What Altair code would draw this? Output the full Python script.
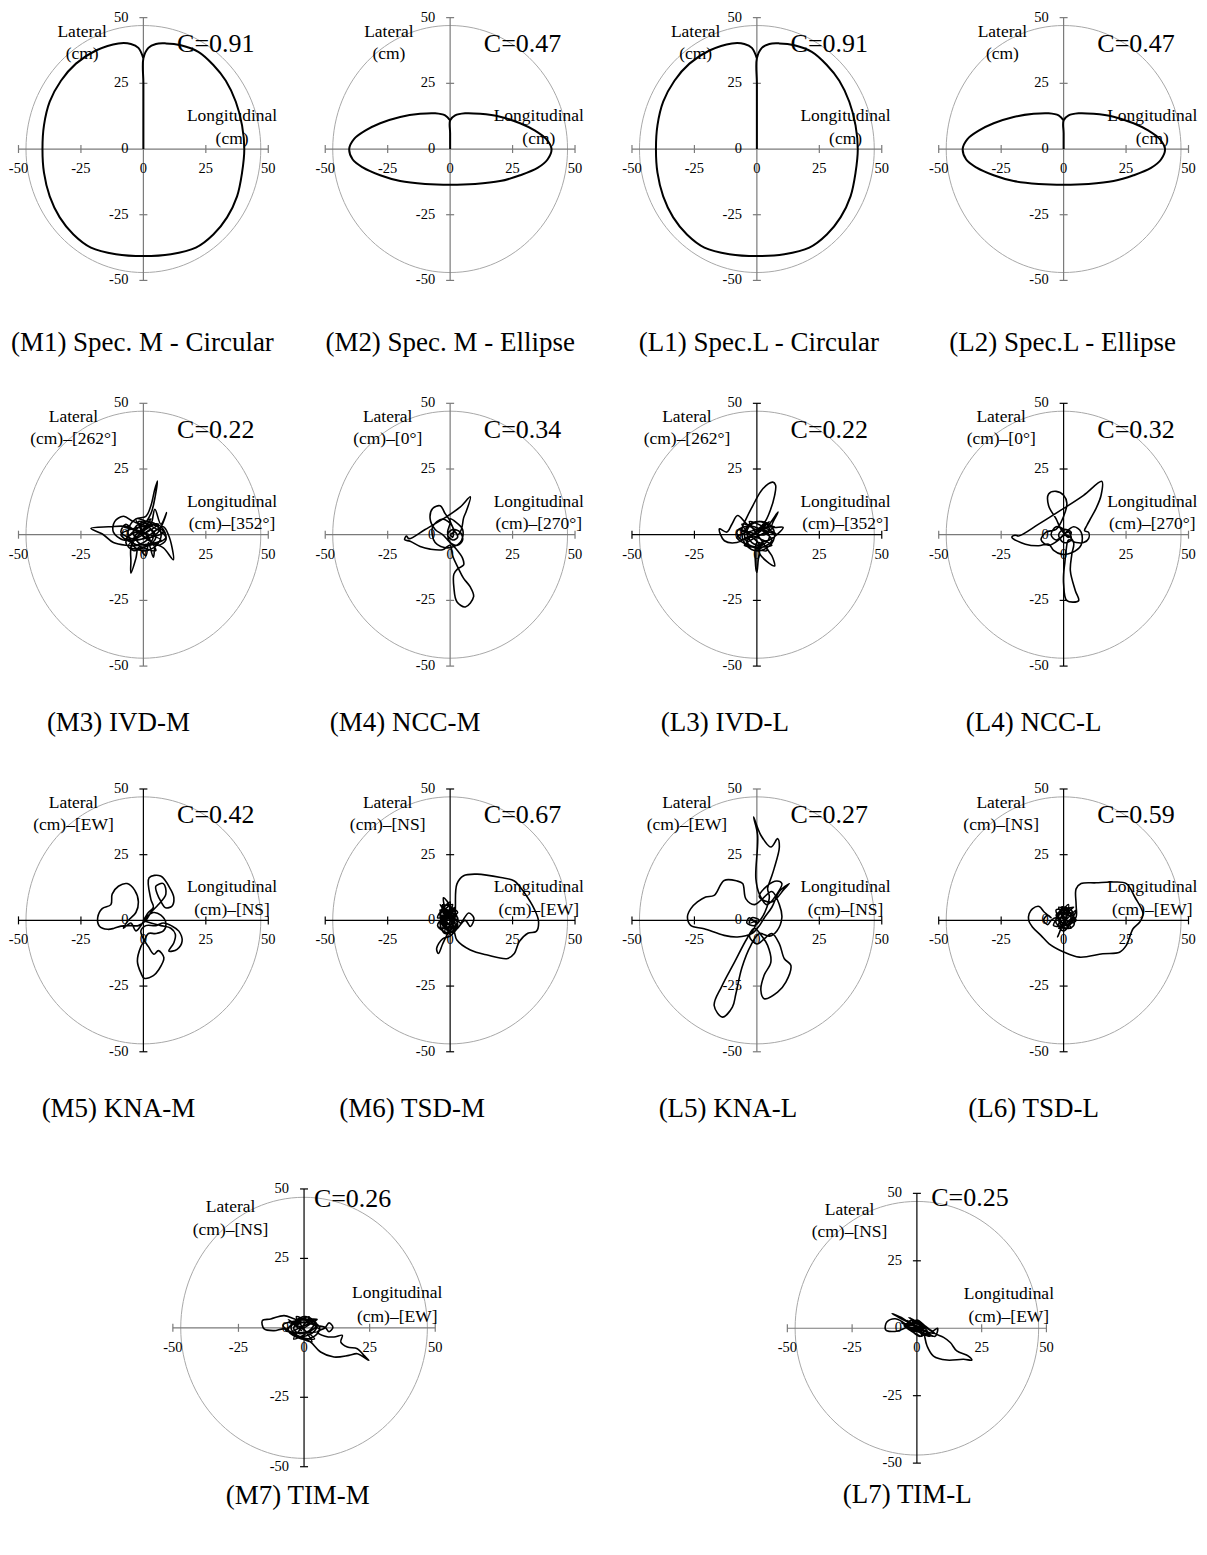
import altair as alt
import pandas as pd

FONT = "Liberation Serif"
TICKS = [-50, -25, 0, 25, 50]
GUIDE_R = 47  # radius of the grey reference circle (cm)

# ---------------- traces (x = longitudinal, y = lateral, cm) ----------------
M1_xy = [(0, 0), (0, 12), (0, 25), (0, 34.5), (2, 38.5), (5, 40), (9, 40.2), (15, 39.5), (22, 37), (28, 32),
         (33, 26), (37, 18), (39.5, 9), (40.4, 0), (39.5, -9), (37.5, -18), (33.5, -26), (28, -32.5), (21, -37.5),
         (11, -40), (0, -40.7), (-11, -40), (-21, -37.5), (-28, -32.5), (-33.5, -26), (-37.5, -18), (-39.8, -9),
         (-40.4, 0), (-39.8, 9), (-37.5, 18), (-33, 26), (-27, 32.5), (-19, 37.5), (-10, 40.2), (-5, 40),
         (-2, 38.5), (0, 34.5)]
M2_xy = [(0, 0), (0, 6), (0, 10.9), (2, 12.8), (6, 13.6), (12, 13.4), (20, 12.3), (28, 9.8), (34, 7), (38.5, 3.8),
         (40.6, 0), (39, -4), (35, -7.2), (28, -10), (20, -12.2), (10, -13.3), (0, -13.6), (-10, -13.3),
         (-20, -12.2), (-28, -10), (-35, -7), (-39, -4), (-40.4, 0), (-38.5, 3.8), (-34, 7), (-28, 9.8),
         (-20, 12.2), (-12, 13.4), (-6, 13.6), (-2, 12.8), (0, 10.9)]
L1_xy = list(M1_xy)
L2_xy = list(M2_xy)
M3_xy = [(0, 0), (3, 2), (5, -1), (2, -4), (-2, -3), (-4, 1), (-2, 4), (2, 5), (6, 3), (7, -1), (4, -5), (-1, -6),
         (-5, -3), (-6, 2), (-3, 6), (1, 7), (3, 11), (4.5, 17), (5.6, 20.4), (4.8, 15), (3, 8), (0, 4), (-4, 5),
         (-8, 7), (-11.5, 5), (-12, 1), (-8, -2), (-3, -1), (1, 2), (5, 4), (8, 2), (9, -2), (6, -4), (2, -2),
         (-1, 0), (-6, 3), (-14, 3), (-21, 2.4), (-16, 0), (-12, -3), (-7, -4), (-3, -4), (0, -3), (3, -1), (6, 1),
         (9.3, 8.4), (7, 4), (4.6, 9.7), (3, 4), (0, 2), (-3, 0), (-5, -5), (-5, -10), (-5, -14.6), (-3, -9),
         (-2, -5), (1, -8), (2, -3), (4, -8.6), (5, -4), (8, -5), (12, -9.5), (11.5, -5), (10, 0), (8, 3), (4, 1),
         (1, -1), (-2, 1), (-5, 0), (-7, -3), (-4, -6), (0, -5), (3, -3), (4, 0), (2, 3), (-1, 3), (-4, 2),
         (-7, 4), (-9, 1), (-6, -1), (-2, -2), (2, 0), (-8, 3), (7, -2), (-6, -4), (6, 4), (-9, 0), (5, -6),
         (-3, 6), (8, 1), (-7, -2), (3, 6), (-5, -5), (9, -1), (-2, 5), (0, 0)]
M4_xy = [(0, 0), (2, 1), (3, -1), (1, -2), (-1, 0), (1, 2), (4, 1), (5, -2), (3, -4), (0, -3), (-1, 1), (0, 5),
         (-2, 8), (-4, 11), (-7, 10), (-8, 6), (-6, 2), (-3, 0), (-1, -2), (2, -5), (5, -9), (5.4, -11.5),
         (3, -13), (1.5, -15), (1.5, -20), (2.7, -25.5), (6.1, -27.5), (9.4, -23.6), (8, -19.8), (5.4, -16.6),
         (3.4, -13), (1, -8), (0, -4), (-3, -5.7), (-8, -5.5), (-12, -4.5), (-16, -2.5), (-18.2, -1.9),
         (-17.5, -0.5), (-16.5, -1.5), (-10, 2), (-2, 6.5), (4, 10.5), (8.1, 14.4), (6.5, 9), (5.4, 6.4),
         (4.5, 2), (3, 0), (0, 6), (5, 2), (4, -3), (-1, -5), (-6, -3), (-7, 3), (-3, 6), (1, 3), (1, -1), (0, 0)]
L3_xy = [(0, 0), (3, 2), (5, -1), (2, -4), (-2, -3), (-4, 1), (-2, 4), (2, 5), (6, 3), (7, -1), (4, -5), (-1, -6),
         (-5, -3), (-6, 2), (-4.3, 6), (-1.6, 11.1), (2.4, 17.5), (6.4, 20), (7.5, 18.8), (7.1, 14.9), (5.1, 8.6),
         (3.1, 4.7), (0, 2), (-4, 4), (-7.7, 7.3), (-10, 4), (-12, 1), (-15, 2.2), (-13, -2.3), (-8, -3), (-4, -1),
         (0, 1), (4, 3), (8.5, 8.6), (6, 3), (10.5, 2.8), (8, 0), (5, -2), (2, -3), (1, -7), (7.1, -11.9),
         (6, -8), (5.1, -6.8), (3, -4), (0, -3), (-0.5, -11.9), (0, -14.4), (0.5, -10), (1, -4), (-2, -1),
         (-6, -2), (-8, 1), (-5, 3), (-1, 3), (3, 1), (6, -2), (4, -4), (0, -5), (-3, -4), (-5, 0), (-3, 4),
         (1, 5), (5, 3), (3, 0), (-7, 2), (6, -4), (-5, -4), (7, 3), (-8, -1), (4, -6), (-3, 5), (8, 0),
         (-6, 4), (2, -5), (-4, -3), (5, 5), (0, 0)]
L4_xy = [(0, 0), (2, 1), (3, -2), (0, -3), (-2, 0), (0, 2), (3, 1), (2, -1), (-1, 2), (-3, 6), (-6, 11),
         (-6, 15.5), (-3, 16.5), (0, 15), (1.3, 12), (0, 7), (-3, 2), (-7, 1), (-9, -2), (-6, -4), (-2, -2),
         (0, 0), (4, 3), (7, 1), (7, -4), (3, -7), (-1, -7.4), (-4, -6), (-6, -3.6), (-10, -4.2), (-15.3, -3.6),
         (-20.7, -1), (-19.5, -0.2), (-18, -0.5), (-10, 4), (0, 10), (8, 15), (15.3, 20.3), (15, 15), (13, 10),
         (11, 6.5), (9.3, 3.5), (8.4, 1.5), (10, 0.9), (10, -1.5), (8, -3), (5, -3), (2, -2), (1, -6),
         (0.5, -10.5), (0, -15), (0, -18.8), (1.3, -25.1), (6, -25.1), (4.7, -21.3), (2.7, -13.7), (3.3, -7.4),
         (4, -3), (1, 0), (-3, -2), (-5, 0), (-3, 3), (0, 2), (0, 0)]
M5_xy = [(0, 0), (2, 3), (4, 5), (3, 8), (2.3, 16.2), (6.9, 16.9), (10.9, 11.8), (12.2, 8.6), (11.5, 5.5),
         (8.9, 4.8), (6.9, 7.4), (5.6, 9.9), (5, 13), (8, 14), (9, 10), (6, 6), (3, 3), (1, 0), (-2, -2), (-5, -2),
         (-9, -2.2), (-11.7, -3), (-14.3, -3.4), (-17.6, -2.2), (-18.3, 1), (-16.5, 4.5), (-13, 6), (-12.5, 10),
         (-10, 13), (-6.5, 14), (-3.5, 11.5), (-2, 7), (-3, 3), (-6, 0), (-8, -3), (-5, -1), (-3, -4), (-1, -2),
         (1, 1), (4, 3), (7, 2), (9, -1), (8, -4), (5, -5), (2, -5), (0.3, -7.9), (-1, -10), (-2.4, -15.5),
         (-1, -20), (0.3, -22), (4, -21), (6.2, -18.7), (8.2, -14.2), (6, -11.5), (4.2, -12.9), (2, -10),
         (0, -7), (-1, -4), (1, -2), (5, -2), (8, -1), (11.5, -2.2), (14.2, -4.1), (15.5, -7.9), (13.5, -11),
         (10.2, -11.7), (12.2, -8.5), (12.8, -5.3), (11, -3), (7, -2), (3, -1), (0, 0)]
M6_xy = [(0, 0), (-2, 3), (-3, -2), (-1, 4), (1, -3), (-3, 1), (-1, -4), (0, 5), (-2.7, 8.6), (-2, 2), (-4, -3),
         (0, -2), (2, 4), (-1, 1), (-3, 5), (1, 2), (3, -2), (-2, -5), (-4, 0), (0, 3), (3, 1), (1, -4), (-2, -3),
         (-4, 3), (-1, 6), (2, 3), (4, -1), (7.4, 2.8), (9.5, 0.9), (8.1, -2.3), (6, 0), (3, -3), (0, -6),
         (-3, -7), (-5.4, -10.7), (-4.7, -12.6), (-3, -9), (-1, -5), (1, -2), (2, 3), (2.7, 13.8), (5.4, 17),
         (10.8, 17.6), (20.3, 16.3), (25.7, 15), (29.7, 10.5), (33.8, 4.1), (35.4, -0.4), (34.5, -4.2),
         (31.1, -4.9), (27.7, -8.1), (25.7, -12.6), (23, -14.5), (14.9, -13.2), (8.1, -11.3), (2.7, -7.5),
         (1.4, -3.6), (-1, -1), (-3, 2), (-2, -2), (1, 1), (-1, 3), (-3, -1), (2, -1), (-2, 4), (-4, 6), (2, -4),
         (-3, -4), (1, 6), (-4, 2), (3, 0), (-2, -5), (0, 7), (-5, 1), (2, 2), (-1, -3), (-4, 4), (1, -1),
         (-3, 6), (3, 3), (-2, 0), (0, -5), (-5, -2), (2, 5), (-1, 2), (-4, -1), (1, 4), (-2, -2), (3, -3),
         (-3, 3), (0, 0)]
L5_xy = [(0, 0), (-3, -1), (-2, 1), (1, 0), (-1, -2), (-4, -1), (-3, 1), (0, -1), (2, 1), (4, 5), (5, 9),
         (4.3, 12.1), (5.6, 15.9), (6.9, 19.7), (9, 27.9), (8.3, 31.1), (5.6, 27.9), (1.6, 32.4), (-1.3, 39.3),
         (0.3, 32.4), (-0.4, 15.9), (1, 10), (4, 6), (8, 10), (10, 14), (8, 15), (4, 13), (1, 9), (6, 7),
         (11, 12), (13, 14), (9, 11), (6, 5), (3, 1), (1, -2), (-2, -5), (-7.8, -6.3), (-13.1, -5.7),
         (-21.1, -3.2), (-26.5, -1.9), (-27.8, 1.3), (-26.5, 4.4), (-23.8, 7), (-20.5, 8.9), (-17.1, 9.5),
         (-13.1, 15.2), (-8, 15), (-5.7, 14), (-4.4, 8.2), (-1, 6), (2, 8), (6, 11), (9, 6), (10, 1), (8, -4),
         (5, -6), (1, -5), (-2.4, -9.5), (-6, -18), (-8.4, -27.9), (-9.8, -33), (-13.8, -36.8), (-17.1, -32.4),
         (-14, -25), (-9, -16), (-4, -7), (-1, -3), (2, -6), (4.3, -9.5), (5.6, -15.9), (2.9, -20.9),
         (1.6, -26.6), (2.9, -29.8), (8.3, -27.3), (11.6, -23.5), (13.6, -17.1), (11, -14.6), (9, -8.9),
         (6, -5), (3, -7), (0, -9), (-3, -6), (-1, -3), (0, 0)]
L6_xy = [(0, 0), (2, 3), (-1, 4), (-3, -1), (1, -3), (3, 2), (0, 5), (-2, 1), (2, -2), (4, 1), (1, 3), (-2, -2),
         (0, -4), (3, -1), (5, 1.3), (5, 6), (5, 12), (7, 14), (13, 14.3), (19.7, 14.6), (25.1, 14), (28.5, 8.9),
         (31.8, 2.5), (30.5, -0.6), (27.8, -3.2), (25.1, -9.5), (22.4, -12.1), (15.7, -12.7), (6.3, -14),
         (0, -12), (-5.8, -8.9), (-9.1, -5.7), (-12.5, -2.5), (-14, 0), (-13.8, 2.5), (-12.5, 4.4), (-9.8, 5.3),
         (-7.8, 3.2), (-5, 1), (-6.4, 2), (-8, 0), (-6.4, -1.6), (-5, 0), (-3, 1), (-1, -2), (-2.4, -6.3),
         (-1, -3), (1, 2), (-1, 5), (3, 4), (4, -2), (1, -3), (-2, 0), (4, 5), (-3, 2), (3, -3), (-2, 5), (5, 0),
         (-4, -2), (2, 6), (0, -4), (4, 2), (-3, 4), (1, -2), (5, 4), (-2, -3), (3, 1), (-1, 3), (0, 0)]
M7_xy = [(0, 0), (3, 2), (-2, 3), (-5, 0), (-2, -3), (3, -2), (5, 1), (1, 4), (-4, 2), (-6, -1), (-1, -4), (4, -3),
         (6, 0), (2, 3), (-3, 3), (-7.6, 4.4), (-12.7, 3.2), (-15.9, 2.6), (-15.2, -0.4), (-11.4, -1),
         (-7.6, -0.4), (-4, -2), (0, -4), (2.5, -5.1), (6.3, -8.7), (11.4, -10.5), (17.1, -9.9), (20.3, -9.3),
         (24.7, -11.7), (22.8, -9.9), (20.3, -7.5), (16.5, -6.9), (14, -5.1), (14.6, -2.7), (11.4, -3.3),
         (8, -3), (5.1, -1.5), (8, 0), (9.5, 1.8), (11, 0.2), (9.5, -1.4), (8, 0.2), (4, 1), (0, 2), (-4, 0),
         (-2, -2), (2, -1), (4, 2), (0, 3), (-3, 1), (-1, -1), (-6, 3), (4, -4), (-5, -2), (5, 3), (-8, 1),
         (3, -5), (-3, 4), (6, -1), (-7, -1), (2, 4), (-4, -4), (5, 1), (-6, 2), (0, 0)]
L7_xy = [(0, 0), (-3, 2), (-6, 4), (-9.6, 5.4), (-5, 3), (-1, 1), (3, -1), (5, -3), (2, -2), (-2, 0), (-5, 2),
         (-8.4, 3.5), (-11.6, 2.3), (-12.2, -0.3), (-11.6, -0.9), (-7.1, -0.9), (-3, 1), (0, 3), (3, 1), (6, -1),
         (8, 0), (7, -3), (4, -2), (1, -3), (-2, -1), (-4, 1), (-1, 2), (2, 0), (3.9, -6.5), (6.4, -10.3),
         (11.6, -11.8), (18, -11.5), (21.2, -11.8), (19.9, -10.3), (15.4, -8.4), (12.9, -5.3), (10.3, -3.4),
         (7, -2), (4, 0), (1, 2), (-2, 3), (-4, 1), (-1, -1), (2, -1), (-7, 4), (5, -2), (-4, 3), (6, -3),
         (-6, 2), (3, 0), (-3, 4), (7, -2), (-5, 1), (2, -3), (-2, 3), (4, -1), (0, 0)]

# ---------------- texts ----------------
C_VALUES = {"M1": "C=0.91", "M2": "C=0.47", "L1": "C=0.91", "L2": "C=0.47",
            "M3": "C=0.22", "M4": "C=0.34", "L3": "C=0.22", "L4": "C=0.32",
            "M5": "C=0.42", "M6": "C=0.67", "L5": "C=0.27", "L6": "C=0.59",
            "M7": "C=0.26", "L7": "C=0.25"}
LAT2 = {"M1": "(cm)", "M2": "(cm)", "L1": "(cm)", "L2": "(cm)",
        "M3": "(cm)–[262°]", "M4": "(cm)–[0°]", "L3": "(cm)–[262°]", "L4": "(cm)–[0°]",
        "M5": "(cm)–[EW]", "M6": "(cm)–[NS]", "L5": "(cm)–[EW]", "L6": "(cm)–[NS]",
        "M7": "(cm)–[NS]", "L7": "(cm)–[NS]"}
LON2 = {"M1": "(cm)", "M2": "(cm)", "L1": "(cm)", "L2": "(cm)",
        "M3": "(cm)–[352°]", "M4": "(cm)–[270°]", "L3": "(cm)–[352°]", "L4": "(cm)–[270°]",
        "M5": "(cm)–[NS]", "M6": "(cm)–[EW]", "L5": "(cm)–[NS]", "L6": "(cm)–[EW]",
        "M7": "(cm)–[EW]", "L7": "(cm)–[EW]"}
CAPTIONS = {"M1": "(M1) Spec. M - Circular", "M2": "(M2) Spec. M - Ellipse",
            "L1": "(L1) Spec.L - Circular", "L2": "(L2) Spec.L - Ellipse",
            "M3": "(M3) IVD-M", "M4": "(M4) NCC-M", "L3": "(L3) IVD-L", "L4": "(L4) NCC-L",
            "M5": "(M5) KNA-M", "M6": "(M6) TSD-M", "L5": "(L5) KNA-L", "L6": "(L6) TSD-L",
            "M7": "(M7) TIM-M", "L7": "(L7) TIM-L"}
TRACES = {"M1": M1_xy, "M2": M2_xy, "L1": L1_xy, "L2": L2_xy, "M3": M3_xy, "M4": M4_xy,
          "L3": L3_xy, "L4": L4_xy, "M5": M5_xy, "M6": M6_xy, "L5": L5_xy, "L6": L6_xy,
          "M7": M7_xy, "L7": L7_xy}

# ---------------- layout / style (not data) ----------------
GREY = "#7a7a7a"
BLACK = "#000000"
STYLE = {  # axis colour (horizontal, vertical), lateral label x, caption centre x (px from plot left)
    "M1": (GREY, GREY, -24.5, 124), "M2": (GREY, GREY, -24.5, 125),
    "L1": (GREY, GREY, -24.5, 127), "L2": (GREY, GREY, -24.5, 124),
    "M3": (GREY, GREY, -28, 100), "M4": (GREY, GREY, -25, 80),
    "L3": (BLACK, BLACK, -28, 93), "L4": (GREY, BLACK, -25, 95),
    "M5": (BLACK, BLACK, -28, 100), "M6": (BLACK, BLACK, -25, 87),
    "L5": (BLACK, GREY, -28, 96), "L6": (BLACK, BLACK, -25, 95),
    "M7": (GREY, BLACK, -28, 125), "L7": (GREY, BLACK, -26, 120),
}


def panel(key, W, H, cell_w, cell_h, lm, tm, cap_y, c_pos, lat_y, lw):
    """One cell: the -50..50 square occupies W x H px, placed lm/tm px inside a cell_w x cell_h view."""
    hcol, vcol, lat_x, cap_x = STYLE[key]
    lo, hi = min(TICKS), max(TICKS)
    span = hi - lo
    xdom = [lo - lm * span / W, lo + (cell_w - lm) * span / W]
    ydom = [hi - (cell_h - tm) * span / H, hi + tm * span / H]
    xs = alt.Scale(domain=xdom, nice=False, zero=False)
    ys = alt.Scale(domain=ydom, nice=False, zero=False)
    X = lambda f="x": alt.X(f"{f}:Q", scale=xs, axis=None)
    Y = lambda f="y": alt.Y(f"{f}:Q", scale=ys, axis=None)

    # grey reference circle (elliptical symbol so that it follows both scales)
    rx = GUIDE_R / span * W
    ry = GUIDE_R / span * H
    k = ry / rx
    shape = f"M -1 0 A 1 {k:.4f} 0 1 0 1 0 A 1 {k:.4f} 0 1 0 -1 0 Z"
    circle = alt.Chart(pd.DataFrame({"x": [0], "y": [0]})).mark_point(
        shape=shape, size=(2 * rx) ** 2, filled=False, stroke="#a8a8a8", strokeWidth=1, opacity=1
    ).encode(x=X(), y=Y())

    hline = alt.Chart(pd.DataFrame({"x": [lo], "x2": [hi], "y": [0]})).mark_rule(
        color=hcol, strokeWidth=1.2).encode(x=X(), x2="x2:Q", y=Y())
    vline = alt.Chart(pd.DataFrame({"y": [lo], "y2": [hi], "x": [0]})).mark_rule(
        color=vcol, strokeWidth=1.2).encode(y=Y(), y2="y2:Q", x=X())

    nz = [t for t in TICKS if t != 0]
    xt = alt.Chart(pd.DataFrame({"x": nz, "y": [0] * len(nz)})).mark_tick(
        orient="vertical", size=8, thickness=1.2, color=hcol, opacity=1).encode(x=X(), y=Y())
    yt = alt.Chart(pd.DataFrame({"y": nz, "x": [0] * len(nz)})).mark_tick(
        orient="horizontal", size=8, thickness=1.2, color=vcol, opacity=1).encode(x=X(), y=Y())

    xl = alt.Chart(pd.DataFrame({"x": TICKS, "y": [0] * len(TICKS), "t": [str(t) for t in TICKS]})).mark_text(
        font=FONT, fontSize=14.5, color="black", align="center", baseline="middle", dy=20
    ).encode(x=X(), y=Y(), text="t:N")
    yl = alt.Chart(pd.DataFrame({"y": TICKS, "x": [0] * len(TICKS), "t": [str(t) for t in TICKS]})).mark_text(
        font=FONT, fontSize=14.5, color="black", align="right", baseline="middle", dx=-15
    ).encode(x=X(), y=Y(), text="t:N")

    pts = TRACES[key]
    tr = pd.DataFrame({"x": [p[0] for p in pts], "y": [p[1] for p in pts], "i": list(range(len(pts)))})
    trace = alt.Chart(tr).mark_line(color="black", strokeWidth=lw, interpolate="catmull-rom").encode(
        x=X(), y=Y(), order="i:Q")

    ann = pd.DataFrame({
        "x": [lat_x, lat_x, 35.5, 35.5, c_pos[0]],
        "y": [lat_y, lat_y - 8.3, 12.6, 4.0, c_pos[1]],
        "t": ["Lateral", LAT2[key], "Longitudinal", LON2[key], C_VALUES[key]],
        "fs": [17.5, 17.5, 17.5, 17.5, 26],
    })
    labels = alt.Chart(ann).mark_text(font=FONT, color="black", align="center", baseline="middle").encode(
        x=X(), y=Y(), text="t:N", size=alt.Size("fs:Q", scale=None, legend=None))

    cap = alt.Chart(pd.DataFrame({"t": [CAPTIONS[key]]})).mark_text(
        font=FONT, fontSize=27, color="black", align="center", baseline="middle"
    ).encode(x=alt.value(lm + cap_x), y=alt.value(tm + cap_y), text="t:N")

    return alt.layer(circle, hline, vline, xt, yt, xl, yl, trace, labels, cap).properties(
        width=cell_w, height=cell_h)


W1, H1 = 250, 263
CELL_W, CELL_H = 306, 384
LAST_W = 270  # last column only needs room for its own labels (keeps the page 1207 px wide)
rows = []
for keys, cap_y in ((["M1", "M2", "L1", "L2"], 326), (["M3", "M4", "L3", "L4"], 320),
                    (["M5", "M6", "L5", "L6"], 320)):
    cells = []
    for j, k in enumerate(keys):
        cw = LAST_W if j == len(keys) - 1 else CELL_W
        cells.append(panel(k, W1, H1, cw, CELL_H, 9.5, 7, cap_y, (29, 40), 44.6,
                           2.0 if k[1] in "12" else 1.6))
    rows.append(alt.hconcat(*cells, spacing=0))

row4 = alt.hconcat(
    panel("M7", 262.6, 278, 610, 380, 164, 23.3, 307, (18.5, 46.3), 43.5, 1.6),
    panel("L7", 259.3, 270, 578, 380, 169, 27.7, 302, (20.5, 48.2), 43.8, 1.6),
    spacing=0)

chart = alt.vconcat(*rows, row4, spacing=0).properties(
    padding={"left": 0, "top": 0, "right": 0, "bottom": 0}
).configure_view(strokeWidth=0)

chart.save("out.html", embed_options={"renderer": "svg", "actions": False})
